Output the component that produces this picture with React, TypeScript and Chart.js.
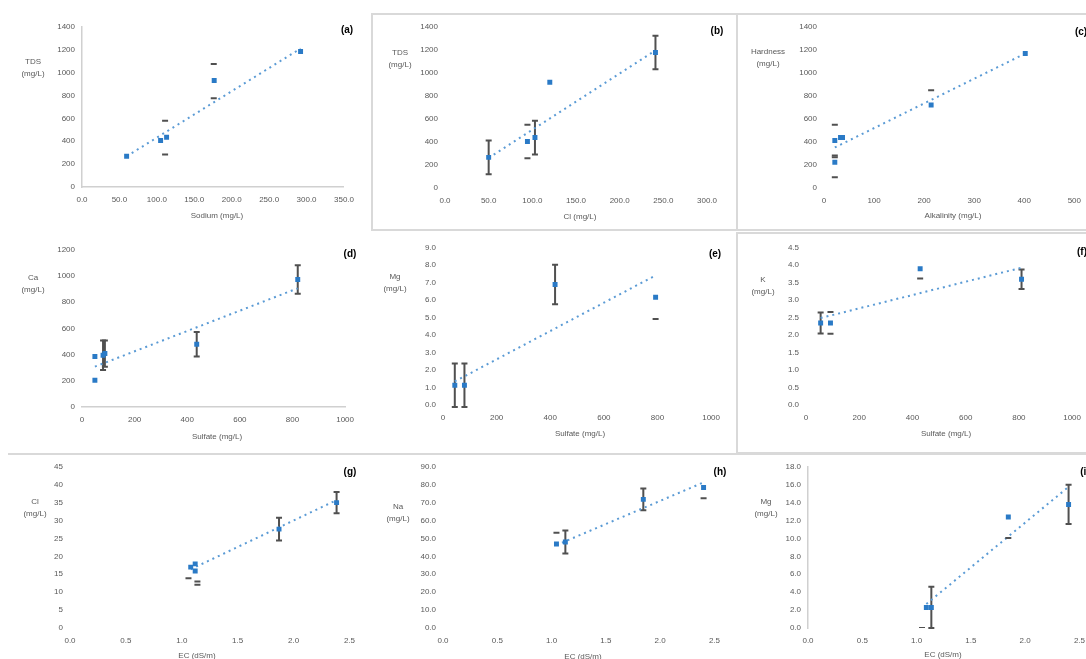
import React, { useEffect, useRef } from 'react';
import { Chart, registerables } from 'chart.js';
Chart.register(...registerables);

const FONT = "'Liberation Sans', Arial, sans-serif";
const BLUE = '#2a7ac6';
const TREND = '#5b9bd5';
const BAR = '#505050';
const TXT = '#595959';

// ---------- (a) ----------
const aX = [59.6, 105, 113, 176.6, 292];
const aY = [268, 406, 435, 931, 1184];
const aErr = [0, 0, 0, 0, 0];
const aDashX = [111, 111, 176, 176];
const aDashY = [579, 285, 1074, 775];
const aTrendX = [59.6, 292];
const aTrendY = [268, 1210];
const aXTicks = [0, 50, 100, 150, 200, 250, 300, 350];
const aYTicks = [0, 200, 400, 600, 800, 1000, 1200, 1400];

// ---------- (b) ----------
const bX = [50, 94.4, 103, 120, 241];
const bY = [266, 404, 438, 919, 1177];
const bErr = [146, 0, 146, 0, 146];
const bDashX = [94.4, 94.4];
const bDashY = [550, 258];
const bTrendX = [50, 241];
const bTrendY = [261, 1195];
const bXTicks = [0, 50, 100, 150, 200, 250, 300];
const bYTicks = [0, 200, 400, 600, 800, 1000, 1200, 1400];

// ---------- (c) ----------
const cX = [21.6, 21.6, 33, 37, 214, 402];
const cY = [412, 223, 438, 438, 721, 1168];
const cErr = [0, 0, 0, 0, 0, 0];
const cDashX = [21.6, 21.6, 21.6, 21.6, 214];
const cDashY = [550, 283, 266, 94, 850];
const cTrendX = [21.6, 402];
const cTrendY = [352, 1168];
const cXTicks = [0, 100, 200, 300, 400, 500];
const cYTicks = [0, 200, 400, 600, 800, 1000, 1200, 1400];

// ---------- (d) ----------
const dX = [49, 49, 80, 87, 436, 820];
const dY = [385, 204, 395, 408, 479, 973];
const dErr = [0, 0, 113, 100, 94, 109];
const dDashX: number[] = [];
const dDashY: number[] = [];
const dTrendX = [49, 820];
const dTrendY = [308, 906];
const dXTicks = [0, 200, 400, 600, 800, 1000];
const dYTicks = [0, 200, 400, 600, 800, 1000, 1200];

// ---------- (e) ----------
const eX = [44, 80, 418, 793];
const eY = [1.13, 1.13, 6.9, 6.17];
const eErr = [1.25, 1.25, 1.13, 0];
const eDashX = [793];
const eDashY = [4.92];
const eTrendX = [44, 793];
const eTrendY = [1.35, 7.42];
const eXTicks = [0, 200, 400, 600, 800, 1000];
const eYTicks = [0, 1, 2, 3, 4, 5, 6, 7, 8, 9];

// ---------- (f) ----------
const fX = [55, 92, 429, 810];
const fY = [2.35, 2.35, 3.9, 3.6];
const fErr = [0.3, 0, 0, 0.28];
const fDashX = [92, 92, 429];
const fDashY = [2.66, 2.04, 3.62];
const fTrendX = [55, 810];
const fTrendY = [2.49, 3.93];
const fXTicks = [0, 200, 400, 600, 800, 1000];
const fYTicks = [0, 0.5, 1, 1.5, 2, 2.5, 3, 3.5, 4, 4.5];

// ---------- (g) ----------
const gX = [1.08, 1.12, 1.12, 1.87, 2.385];
const gY = [17.0, 17.9, 15.9, 27.6, 35.0];
const gErr = [0, 0, 0, 3.2, 3.0];
const gDashX = [1.06, 1.14, 1.14];
const gDashY = [13.9, 13.0, 12.1];
const gTrendX = [1.08, 2.385];
const gTrendY = [16.4, 35.7];
const gXTicks = [0, 0.5, 1, 1.5, 2, 2.5];
const gYTicks = [0, 5, 10, 15, 20, 25, 30, 35, 40, 45];

// ---------- (h) ----------
const hX = [1.045, 1.127, 1.845, 2.4];
const hY = [46.9, 48.0, 71.8, 78.4];
const hErr = [0, 6.4, 6.1, 0];
const hDashX = [1.045, 2.4];
const hDashY = [53.2, 72.5];
const hTrendX = [1.045, 2.4];
const hTrendY = [46.3, 81.3];
const hXTicks = [0, 0.5, 1, 1.5, 2, 2.5];
const hYTicks = [0, 10, 20, 30, 40, 50, 60, 70, 80, 90];

// ---------- (i) ----------
const iX = [1.09, 1.136, 1.845, 2.4];
const iY = [2.3, 2.3, 12.4, 13.8];
const iErr = [0, 2.3, 0, 2.2];
const iDashX = [1.05, 1.845];
const iDashY = [0.0, 10.05];
const iTrendX = [1.09, 2.4];
const iTrendY = [2.68, 15.76];
const iXTicks = [0, 0.5, 1, 1.5, 2, 2.5];
const iYTicks = [0, 2, 4, 6, 8, 10, 12, 14, 16, 18];

type PanelCfg = {
  area: number[];
  x: number[]; y: number[]; err: number[];
  dashX: number[]; dashY: number[];
  trendX: number[]; trendY: number[];
  xTicks: number[]; xDec: number; yTicks: number[]; yDec: number;
  axisX: boolean; axisY: boolean;
  yTitle: string[]; yTitlePos: number[];
  xTitle: string; xTitlePos: number[];
  label: string; labelPos: number[];
};

const panels: PanelCfg[] = [
  { area: [82, 352, 25, 187], x: aX, y: aY, err: aErr, dashX: aDashX, dashY: aDashY, trendX: aTrendX, trendY: aTrendY, xTicks: aXTicks, xDec: 1, yTicks: aYTicks, yDec: 0, axisX: true, axisY: true, yTitle: ['TDS', '(mg/L)'], yTitlePos: [33, 62], xTitle: 'Sodium (mg/L)', xTitlePos: [217, 216], label: '(a)', labelPos: [347, 30] },
  { area: [445, 715, 25, 188], x: bX, y: bY, err: bErr, dashX: bDashX, dashY: bDashY, trendX: bTrendX, trendY: bTrendY, xTicks: bXTicks, xDec: 1, yTicks: bYTicks, yDec: 0, axisX: false, axisY: false, yTitle: ['TDS', '(mg/L)'], yTitlePos: [400, 53], xTitle: 'Cl (mg/L)', xTitlePos: [580, 217], label: '(b)', labelPos: [717, 31] },
  { area: [824, 1079, 25, 188], x: cX, y: cY, err: cErr, dashX: cDashX, dashY: cDashY, trendX: cTrendX, trendY: cTrendY, xTicks: cXTicks, xDec: 0, yTicks: cYTicks, yDec: 0, axisX: false, axisY: false, yTitle: ['Hardness', '(mg/L)'], yTitlePos: [768, 52], xTitle: 'Alkalinity (mg/L)', xTitlePos: [953, 216], label: '(c)', labelPos: [1081, 32] },
  { area: [82, 352, 248, 407], x: dX, y: dY, err: dErr, dashX: dDashX, dashY: dDashY, trendX: dTrendX, trendY: dTrendY, xTicks: dXTicks, xDec: 0, yTicks: dYTicks, yDec: 0, axisX: true, axisY: false, yTitle: ['Ca', '(mg/L)'], yTitlePos: [33, 278], xTitle: 'Sulfate (mg/L)', xTitlePos: [217, 437], label: '(d)', labelPos: [350, 254] },
  { area: [443, 718, 246, 405], x: eX, y: eY, err: eErr, dashX: eDashX, dashY: eDashY, trendX: eTrendX, trendY: eTrendY, xTicks: eXTicks, xDec: 0, yTicks: eYTicks, yDec: 1, axisX: false, axisY: false, yTitle: ['Mg', '(mg/L)'], yTitlePos: [395, 277], xTitle: 'Sulfate (mg/L)', xTitlePos: [580, 434], label: '(e)', labelPos: [715, 254] },
  { area: [806, 1079, 246, 405], x: fX, y: fY, err: fErr, dashX: fDashX, dashY: fDashY, trendX: fTrendX, trendY: fTrendY, xTicks: fXTicks, xDec: 0, yTicks: fYTicks, yDec: 1, axisX: false, axisY: false, yTitle: ['K', '(mg/L)'], yTitlePos: [763, 280], xTitle: 'Sulfate (mg/L)', xTitlePos: [946, 434], label: '(f)', labelPos: [1082, 252] },
  { area: [70, 353, 465, 628], x: gX, y: gY, err: gErr, dashX: gDashX, dashY: gDashY, trendX: gTrendX, trendY: gTrendY, xTicks: gXTicks, xDec: 1, yTicks: gYTicks, yDec: 0, axisX: false, axisY: false, yTitle: ['Cl', '(mg/L)'], yTitlePos: [35, 502], xTitle: 'EC (dS/m)', xTitlePos: [197, 656], label: '(g)', labelPos: [350, 472] },
  { area: [443, 718, 465, 628], x: hX, y: hY, err: hErr, dashX: hDashX, dashY: hDashY, trendX: hTrendX, trendY: hTrendY, xTicks: hXTicks, xDec: 1, yTicks: hYTicks, yDec: 1, axisX: false, axisY: false, yTitle: ['Na', '(mg/L)'], yTitlePos: [398, 507], xTitle: 'EC (dS/m)', xTitlePos: [583, 657], label: '(h)', labelPos: [720, 472] },
  { area: [808, 1083, 465, 628], x: iX, y: iY, err: iErr, dashX: iDashX, dashY: iDashY, trendX: iTrendX, trendY: iTrendY, xTicks: iXTicks, xDec: 1, yTicks: iYTicks, yDec: 1, axisX: false, axisY: true, yTitle: ['Mg', '(mg/L)'], yTitlePos: [766, 502], xTitle: 'EC (dS/m)', xTitlePos: [943, 655], label: '(i)', labelPos: [1085, 472] },
];

const errorBarPlugin = {
  id: 'errbars',
  beforeDatasetsDraw(chart: any) {
    const ctx = chart.ctx;
    const xs = chart.scales.x;
    const ys = chart.scales.y;
    chart.data.datasets.forEach((ds: any) => {
      if (!ds.errors) return;
      ds.data.forEach((pt: any, i: number) => {
        const e = ds.errors[i];
        if (!e) return;
        const px = xs.getPixelForValue(pt.x);
        const y1 = ys.getPixelForValue(pt.y + e);
        const y2 = ys.getPixelForValue(pt.y - e);
        ctx.save();
        ctx.strokeStyle = BAR;
        ctx.lineWidth = 2;
        ctx.beginPath();
        ctx.moveTo(px, y1); ctx.lineTo(px, y2);
        ctx.moveTo(px - 3, y1); ctx.lineTo(px + 3, y1);
        ctx.moveTo(px - 3, y2); ctx.lineTo(px + 3, y2);
        ctx.stroke();
        ctx.restore();
      });
    });
  },
};

function Panel({ p }: { p: PanelCfg }) {
  const ref = useRef<HTMLCanvasElement>(null);
  const [l, r, t, b] = p.area;
  const W = r - l + 70;
  const H = b - t + 50;
  useEffect(() => {
    const xt = p.xTicks, yt = p.yTicks;
    const chart = new Chart(ref.current as HTMLCanvasElement, {
      type: 'scatter',
      data: {
        datasets: [
          {
            label: 'data',
            data: p.x.map((x, i) => ({ x, y: p.y[i] })),
            errors: p.err,
            pointStyle: 'rect',
            pointRadius: 3.5,
            backgroundColor: BLUE,
            borderColor: BLUE,
            borderWidth: 0,
          } as any,
          {
            label: 'range',
            data: p.dashX.map((x, i) => ({ x, y: p.dashY[i] })),
            pointStyle: 'line',
            pointRadius: 3,
            borderColor: BAR,
            backgroundColor: BAR,
            borderWidth: 2,
          },
          {
            label: 'trend',
            data: p.trendX.map((x, i) => ({ x, y: p.trendY[i] })),
            showLine: true,
            borderColor: TREND,
            borderWidth: 2,
            borderDash: [2, 4],
            pointRadius: 0,
            fill: false,
          },
        ],
      },
      options: {
        animation: false,
        responsive: false,
        events: [],
        layout: { padding: { left: 0, right: 10, top: 10, bottom: 0 }, autoPadding: false } as any,
        plugins: { legend: { display: false }, tooltip: { enabled: false } },
        scales: {
          x: {
            type: 'linear',
            min: xt[0],
            max: xt[xt.length - 1],
            afterFit: (s: any) => { s.height = 40; },
            grid: { display: false, drawTicks: false },
            border: { display: p.axisX, color: '#d0d0d0', width: 1.5 },
            ticks: {
              stepSize: xt[1] - xt[0],
              autoSkip: false,
              maxRotation: 0,
              padding: 8,
              color: TXT,
              font: { size: 8, family: FONT },
              callback: (v: any) => Number(v).toFixed(p.xDec),
            },
          },
          y: {
            type: 'linear',
            min: yt[0],
            max: yt[yt.length - 1],
            afterFit: (s: any) => { s.width = 60; },
            grid: { display: false, drawTicks: false },
            border: { display: p.axisY, color: '#d0d0d0', width: 1.5 },
            ticks: {
              stepSize: yt[1] - yt[0],
              autoSkip: false,
              padding: 7,
              color: TXT,
              font: { size: 8, family: FONT },
              callback: (v: any) => Number(v).toFixed(p.yDec),
            },
          },
        },
      } as any,
      plugins: [errorBarPlugin],
    });
    return () => chart.destroy();
  }, []);
  const txt: React.CSSProperties = {
    position: 'absolute', transform: 'translate(-50%, -50%)', whiteSpace: 'nowrap',
    fontFamily: FONT, fontSize: 8, color: TXT, lineHeight: '10px',
  };
  return (
    <>
      <canvas ref={ref} width={W} height={H}
        style={{ position: 'absolute', left: l - 60, top: t - 10, width: W, height: H, display: 'block' }} />
      <div style={{ ...txt, left: p.yTitlePos[0], top: p.yTitlePos[1] }}>{p.yTitle[0]}</div>
      <div style={{ ...txt, left: p.yTitlePos[0], top: p.yTitlePos[1] + 12 }}>{p.yTitle[1]}</div>
      <div style={{ ...txt, left: p.xTitlePos[0], top: p.xTitlePos[1] }}>{p.xTitle}</div>
      <div style={{ ...txt, left: p.labelPos[0], top: p.labelPos[1], fontSize: 10, fontWeight: 'bold', color: '#000' }}>{p.label}</div>
    </>
  );
}

export default function App() {
  const box = (l: number, t: number, w: number, h: number): React.CSSProperties => ({
    position: 'absolute', left: l, top: t, width: w, height: h, border: '2px solid #d9d9d9', boxSizing: 'border-box',
  });
  return (
    <div style={{ position: 'fixed', left: 0, top: 0, width: 1086, height: 659, overflow: 'hidden', background: '#fff' }}>
      <div style={box(371, 13, 367, 218)} />
      <div style={box(736, 13, 360, 218)} />
      <div style={box(736, 232, 360, 222)} />
      <div style={{ position: 'absolute', left: 8, top: 453, width: 1078, height: 2, background: '#d9d9d9' }} />
      {panels.map((p, i) => <Panel key={i} p={p} />)}
    </div>
  );
}
